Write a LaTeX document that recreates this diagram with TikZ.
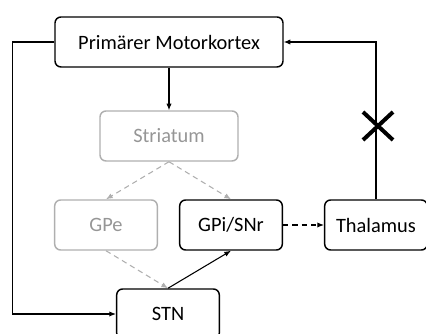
\documentclass[tikz,border=0pt]{standalone}
\usepackage{fontspec}
\setmainfont{Carlito}
\usepackage{tikz}
\usetikzlibrary{arrows.meta,calc,positioning}
\definecolor{grisbord}{RGB}{175,175,175}
\definecolor{gristexte}{RGB}{150,150,150}

\begin{document}
\begin{tikzpicture}[
		x=0.75pt, y=-0.75pt,
		boite/.style={draw, rounded corners=4.5pt, line width=1.1pt, minimum height=37.5pt, minimum width=77pt, font=\fontsize{15.3}{17}\selectfont},
		grise/.style={boite, draw=grisbord, text=gristexte},
		fleche/.style={-{Latex[length=5pt,width=4pt]}, line width=0.8pt},
		pointille/.style={fleche, dashed, dash pattern=on 4pt off 3pt},
		]
		\useasboundingbox (0,0) rectangle (426,334);
		\clip (0,0) rectangle (426,334);
		
		% Les boites
		\node[boite, minimum width=171pt] (MK) at (169, 42) {Primärer Motorkortex};
		\node[grise, minimum width=103.5pt] (STR) at (169, 136) {Striatum};
		\node[grise] (GPE) at (106, 225) {GPe};
		\node[boite] (GPI) at (231, 225) {GPi/SNr};
		\node[boite] (THA) at (376, 225) {Thalamus};
		\node[boite] (STN) at (168, 314) {STN};
		
		% Les connexions
		\draw[fleche] (MK) -- (STR);
		\draw[pointille, draw=grisbord] (STR.south) -- (GPE.north);
		\draw[pointille, draw=grisbord] (STR.south) -- (GPI.north);
		\draw[pointille, draw=grisbord] (GPE.south) -- (STN.north);
		\draw[fleche] (STN.north) -- (GPI.south);
		\draw[pointille] (GPI) -- (THA);
		\draw[fleche] (MK.west) -- ++(-42,0) |- (STN.west);
		\draw[fleche] (THA.north) |- (MK.east);
		
		% La croix
		\coordinate (X) at (378, 126);
		\draw[line width=3pt] ($(X)+(-15,-14)$) -- ($(X)+(15,14)$);
		\draw[line width=3pt] ($(X)+(-15,14)$) -- ($(X)+(15,-14)$);
	\end{tikzpicture}
\end{document}
